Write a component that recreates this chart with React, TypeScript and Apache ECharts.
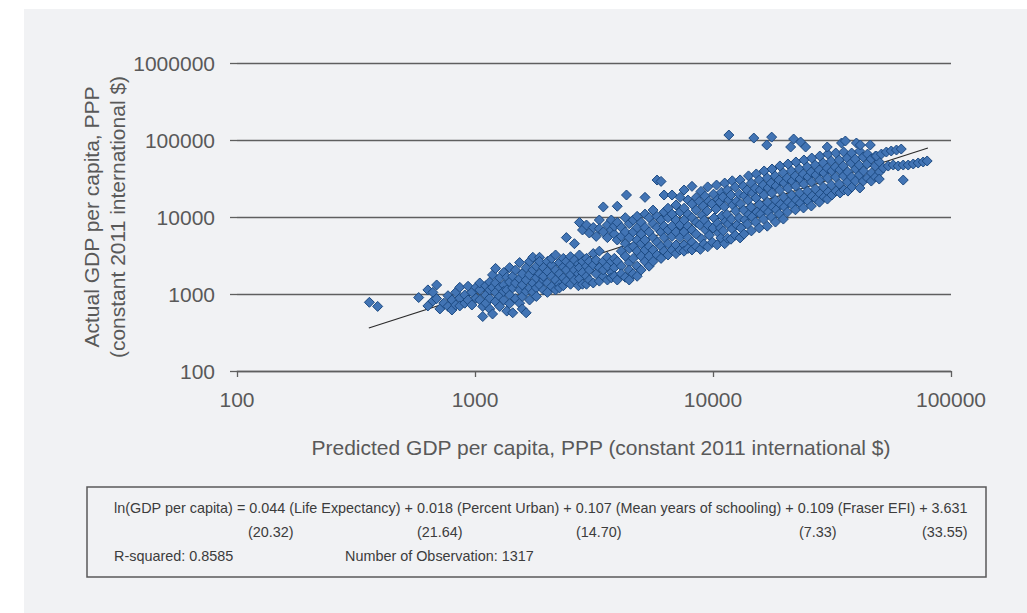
import React, { useEffect, useRef } from "react";
import * as echarts from "echarts";

// Observations: [predicted GDP per capita, actual GDP per capita], PPP constant 2011 international $
const lowIncomeObs: [number, number][] = [
  [360, 780], [390, 690], [580, 900],
  [634, 1130], [634, 700], [665, 1050], [665, 810], [690, 1310], [690, 870],
  [712, 640], [740, 760], [770, 950], [770, 690], [800, 836], [800, 620],
  [830, 1050], [830, 720], [863, 1220], [863, 880], [863, 700],
  [906, 970], [906, 760], [935, 1260], [935, 836], [970, 1050], [970, 720],
  [1010, 880], [1010, 1220], [1047, 836], [1047, 1130], [1047, 1390],
  [1078, 510], [1078, 690], [1110, 970], [1110, 1280], [1110, 760],
  [1153, 1430], [1153, 880], [1153, 1130], [1153, 640],
  [1185, 550], [1185, 1220], [1185, 1770],
  [1220, 800], [1220, 1050], [1220, 1390], [1220, 2150],
  [1270, 690], [1270, 930], [1270, 1220], [1270, 1620],
  [1320, 1310], [1320, 836], [1320, 1080], [1320, 1900],
  [1360, 1650], [1360, 600], [1360, 1130],
  [1398, 2200], [1398, 1430], [1398, 970], [1398, 750],
  [1440, 570], [1440, 1200], [1440, 1700],
  [1480, 870], [1480, 1390], [1480, 2050],
];

const lowerMiddleObs: [number, number][] = [
  [1540, 2560], [1540, 760], [1540, 1130], [1540, 1580],
  [1580, 640], [1580, 1310], [1580, 1830], [1580, 930],
  [1640, 570], [1640, 1080], [1640, 1520], [1640, 2200],
  [1695, 1200], [1695, 1770], [1695, 836], [1695, 2650],
  [1750, 3000], [1750, 1390], [1750, 2050], [1750, 1050],
  [1810, 1620], [1810, 1200], [1810, 2300], [1810, 930],
  [1867, 3000], [1867, 1310], [1867, 1830], [1867, 2650],
  [1940, 1130], [1940, 1520], [1940, 2200], [1940, 1700],
  [2015, 1390], [2015, 1960], [2015, 2650], [2015, 1050],
  [2100, 1250], [2100, 1700], [2100, 2380], [2100, 2900],
  [2180, 3210], [2180, 1520], [2180, 2050], [2180, 1130],
  [2264, 1340], [2264, 1830], [2264, 2560], [2264, 1200],
  [2350, 1620], [2350, 2250], [2350, 2900], [2350, 1280],
  [2420, 5400], [2420, 2050], [2420, 1470], [2420, 2650],
  [2520, 1770], [2520, 2380], [2520, 1340], [2520, 3050],
  [2617, 4500], [2617, 2050], [2617, 2760], [2617, 1520],
  [2720, 1280], [2720, 1830], [2720, 2450],
  [2746, 8500], [2746, 3210], [2746, 2200], [2746, 1580],
  [2830, 6780], [2830, 1340], [2830, 2650], [2830, 1900],
  [2940, 7870], [2940, 1700], [2940, 2900], [2940, 2300], [2940, 1340],
  [3023, 6200], [3023, 2050], [3023, 1520], [3023, 2650],
  [3140, 7300], [3140, 2380], [3140, 3350], [3140, 1390],
  [3230, 5600], [3230, 1830], [3230, 2760],
  [3330, 9140], [3330, 7050], [3330, 2200], [3330, 1470], [3330, 3600],
  [3460, 13500], [3460, 6400], [3460, 2650], [3460, 1700], [3460, 2050],
  [3600, 5400], [3600, 7870], [3600, 2300], [3600, 1520], [3600, 3000],
  [3740, 6780], [3740, 9140], [3740, 1900], [3740, 2650], [3740, 1620],
  [3850, 6000], [3850, 7600], [3850, 2200], [3850, 1700], [3850, 2900],
  [3960, 13800], [3960, 8500], [3960, 5030], [3960, 2650], [3960, 1520],
  [4120, 7300], [4120, 5600], [4120, 3600], [4120, 2300], [4120, 1830],
  [4280, 9800], [4280, 6400], [4280, 4500], [4280, 3100], [4280, 1650],
  [4330, 19300],
  [4446, 8200], [4446, 5400], [4446, 3900], [4446, 2560], [4446, 2050], [4446, 1520],
  [4620, 9140], [4620, 6400], [4620, 4150], [4620, 2900], [4620, 1830],
  [4800, 10200], [4800, 7300], [4800, 5030], [4800, 3600], [4800, 2300], [4800, 1700],
];

const upperMiddleObs: [number, number][] = [
  [4990, 8500], [4990, 6000], [4990, 4500], [4990, 3100], [4990, 2050],
  [5180, 18000], [5180, 10900], [5180, 7300], [5180, 5030], [5180, 2650], [5180, 3730],
  [5392, 9800], [5392, 6400], [5392, 4150], [5392, 3100], [5392, 2300],
  [5600, 12300], [5600, 8200], [5600, 5400], [5600, 3730], [5600, 2650],
  [5820, 30200], [5820, 10200], [5820, 7300], [5820, 4700], [5820, 3210],
  [6050, 29000], [6050, 9140], [6050, 6400], [6050, 4150], [6050, 2900],
  [6230, 19300], [6230, 11600], [6230, 7600], [6230, 5400], [6230, 3600],
  [6470, 9800], [6470, 6780], [6470, 4500], [6470, 3210], [6470, 13000],
  [6730, 19300], [6730, 10900], [6730, 7600], [6730, 5600], [6730, 3730],
  [6990, 14300], [6990, 9140], [6990, 6400], [6990, 4330], [6990, 3350],
  [7270, 18000], [7270, 11600], [7270, 7870], [7270, 5400], [7270, 3730],
  [7557, 22400], [7557, 13000], [7557, 9140], [7557, 6400], [7557, 4330], [7557, 3600],
  [7850, 16600], [7850, 10900], [7850, 7600], [7850, 5400], [7850, 3900],
  [8160, 25000], [8160, 14800], [8160, 9800], [8160, 6780], [8160, 4700], [8160, 3730],
  [8500, 17900], [8500, 12300], [8500, 8500], [8500, 6000], [8500, 4150],
];

const highIncomeObs: [number, number][] = [
  [8900, 21500], [8750, 15900], [9000, 10500], [8800, 7900], [8950, 5200], [8850, 3800],
  [9250, 18600], [9100, 13900], [9200, 9100], [9300, 6800], [9150, 4450],
  [9500, 24600], [9600, 16000], [9450, 12000], [9550, 7800], [9650, 5800], [9500, 4100],
  [10050, 19800], [9900, 14800], [10100, 9700], [10000, 7200], [9950, 4700],
  [10350, 26000], [10500, 17000], [10300, 12700], [10450, 8300], [10550, 6200], [10400, 4350],
  [10850, 21000], [10700, 15600], [10900, 10300], [10750, 7200], [10800, 5350],
  [11200, 27600], [11000, 18200], [11150, 13600], [11300, 8800], [11050, 6600], [11200, 4500],
  [11500, 22400], [11650, 16600], [11450, 10800], [11600, 8100], [11500, 5300],
  [12050, 29500], [11900, 19300], [12100, 14300], [11950, 9400], [12050, 7000], [11900, 5150],
  [12400, 24500], [12550, 16000], [12450, 12000], [12600, 7850], [12400, 5800],
  [13000, 30300], [12900, 19800], [13050, 14800], [12900, 9700], [13100, 7200], [13000, 5350],
  [13400, 25200], [13550, 18800], [13450, 12300], [13600, 9200], [13500, 6000],
  [14100, 34200], [13900, 22400], [14000, 16600], [14150, 10800], [13950, 8100],
  [14500, 27600], [14650, 20500], [14450, 13400], [14600, 10000], [14500, 6600],
  [15200, 36200], [15050, 23700], [15150, 17700], [15300, 11600], [15100, 8600],
  [15650, 30200], [15800, 22400], [15700, 14600], [15850, 10900], [15650, 7200],
  [16400, 39600], [16250, 26000], [16350, 19300], [16500, 12700], [16300, 9400],
  [16900, 32100], [17050, 23800], [16950, 15600], [17100, 11600], [16900, 7600],
  [17700, 42000], [17550, 27600], [17650, 20500], [17800, 13500], [17600, 10000],
  [18250, 34100], [18400, 25300], [18300, 16600], [18450, 12400], [18300, 8600],
  [19100, 46000], [18950, 30200], [19050, 22400], [19200, 14600], [19000, 10900],
  [19750, 37300], [19900, 27600], [19800, 18200], [19950, 13500], [19750, 9400],
  [20650, 48800], [20500, 32100], [20600, 23800], [20750, 15600], [20550, 11600],
  [21350, 39600], [21500, 29300], [21400, 19300], [21550, 14300],
  [22300, 51800], [22150, 34100], [22250, 25300], [22400, 16600], [22200, 12400],
  [23050, 42000], [23200, 31100], [23100, 20500], [23250, 15100],
  [24100, 55000], [23950, 36200], [24050, 26800], [24200, 17700], [24000, 13100],
  [24900, 44600], [25050, 33100], [24950, 21700], [25100, 16100],
  [26000, 58300], [25850, 38400], [25950, 28500], [26100, 18700], [25900, 13900],
  [26900, 47300], [27050, 35100], [26950, 23100], [27100, 17100],
  [28100, 61900], [27950, 40800], [28050, 30200], [28200, 19900], [28000, 15600],
  [29050, 50300], [29250, 37300], [29100, 24500], [29300, 18200],
  [30350, 65700], [30200, 43300], [30300, 32100], [30450, 21100], [30250, 17100],
  [31400, 53400], [31550, 39600], [31450, 26000], [31600, 19300],
  [32800, 67700], [32650, 44600], [32750, 33100], [32900, 21700],
  [33900, 55000], [34100, 40800], [33950, 26800], [34200, 20500],
  [35400, 69800], [35250, 46000], [35350, 34100], [35500, 22400],
  [36650, 58300], [36800, 38400], [36700, 28500], [36900, 21700],
  [38250, 67700], [38100, 50300], [38200, 33100], [38350, 24500],
  [39600, 56600], [39750, 42000], [39650, 29300],
  [41300, 71900], [41150, 47300], [41250, 35100], [41400, 23800],
  [42750, 60000], [42900, 39600], [42800, 29300],
  [44600, 65700], [44450, 48800], [44550, 32100],
  [46200, 56600], [46350, 37300], [46250, 29300],
  [48200, 62000], [48050, 45900], [48150, 33100],
  [49900, 52000], [50100, 38400], [49950, 31100],
];

// Two strands at the top end and the isolated very high values
const richestObs: [number, number][] = [
  [48600, 61900], [51000, 65700], [53500, 69800], [56100, 72000], [59000, 74100], [61800, 76300],
  [51950, 43300], [54500, 45900], [57200, 47300], [60000, 45900], [63000, 47300],
  [66100, 47300], [69400, 48800], [72800, 50300], [76400, 51800], [79400, 53400],
  [63000, 30200],
  [11660, 116000], [14840, 106000], [17640, 109000], [16820, 86100], [21820, 103000],
  [23340, 94200], [21200, 81100], [24500, 81100], [30200, 81100], [34680, 91400],
  [36000, 97000], [40050, 91400], [41600, 86100], [45800, 86100],
];

// Fitted line endpoints
const fitLine: [number, number][] = [[358, 361], [80000, 78700]];

const xTicks = [100, 1000, 10000, 100000];
const yTicks = [100, 1000, 10000, 100000, 1000000];

const xName = "Predicted GDP per capita, PPP (constant 2011 international $)";
const yNameLines = ["Actual GDP per capita, PPP", "(constant 2011 international $)"];

const equation =
  "ln(GDP per capita) = 0.044 (Life Expectancy) + 0.018 (Percent Urban) + 0.107 (Mean years of schooling) + 0.109 (Fraser EFI) + 3.631";
const tStats = ["(20.32)", "(21.64)", "(14.70)", "(7.33)", "(33.55)"];
const tStatX = [248, 417, 576, 799, 922];
const rSquared = "R-squared: 0.8585";
const observations = "Number of Observation: 1317";

const FONT = 'Arial, "Liberation Sans", Helvetica, sans-serif';
const AXIS_TEXT = "#595959";
const BODY_TEXT = "#3c3c3c";
const GRID = "#5f5f5f";

export default function App() {
  const ref = useRef<HTMLDivElement>(null);

  useEffect(() => {
    if (!ref.current) return;
    const chart = echarts.init(ref.current, null, { renderer: "svg" });

    const allObs = [...lowIncomeObs, ...lowerMiddleObs, ...upperMiddleObs, ...highIncomeObs, ...richestObs];

    const boxText = (text: string, x: number, y: number) => ({
      type: "text",
      x,
      y,
      silent: true,
      style: {
        text,
        fill: BODY_TEXT,
        fontSize: 14.4,
        fontFamily: FONT,
        align: "left",
        verticalAlign: "middle",
      },
    });

    chart.setOption({
      animation: false,
      grid: { left: 237, right: 76, top: 63, bottom: 242 },
      xAxis: {
        type: "log",
        logBase: 10,
        min: xTicks[0],
        max: xTicks[xTicks.length - 1],
        axisLine: { show: true, lineStyle: { color: GRID, width: 1.3 } },
        axisTick: { show: true, length: 6, lineStyle: { color: GRID, width: 1.3 } },
        axisLabel: {
          color: AXIS_TEXT,
          fontSize: 21,
          fontFamily: FONT,
          margin: 18,
          formatter: (v: number) => String(Math.round(v)),
        },
        splitLine: { show: false },
      },
      yAxis: {
        type: "log",
        logBase: 10,
        min: yTicks[0],
        max: yTicks[yTicks.length - 1],
        axisLine: { show: false },
        axisTick: { show: true, length: 7, lineStyle: { color: GRID, width: 1.3 } },
        axisLabel: {
          color: AXIS_TEXT,
          fontSize: 21,
          fontFamily: FONT,
          margin: 22,
          formatter: (v: number) => String(Math.round(v)),
        },
        splitLine: { show: true, lineStyle: { color: GRID, width: 1.3 } },
      },
      series: [
        {
          type: "line",
          data: fitLine,
          symbol: "none",
          z: 1,
          lineStyle: { color: "#2b2b2b", width: 1.1 },
          silent: true,
        },
        {
          type: "scatter",
          data: allObs,
          symbol: "diamond",
          symbolSize: 10,
          z: 2,
          itemStyle: { color: "#4274b4", borderColor: "#1c4a82", borderWidth: 1, opacity: 1 },
          silent: true,
        },
      ],
      graphic: [
        ...yNameLines.map((t, i) => ({
          type: "text",
          x: 91 + i * 26,
          y: 217,
          rotation: Math.PI / 2,
          silent: true,
          style: {
            text: t,
            fill: AXIS_TEXT,
            fontSize: 21,
            fontFamily: FONT,
            align: "center",
            verticalAlign: "middle",
          },
        })),
        {
          type: "text",
          x: 601,
          y: 447,
          silent: true,
          style: {
            text: xName,
            fill: AXIS_TEXT,
            fontSize: 21,
            fontFamily: FONT,
            align: "center",
            verticalAlign: "middle",
          },
        },
        {
          type: "rect",
          shape: { x: 87, y: 487, width: 899, height: 90 },
          silent: true,
          style: { fill: "none", stroke: "#595959", lineWidth: 1.5 },
        },
        boxText(equation, 114, 508),
        ...tStats.map((t, i) => boxText(t, tStatX[i], 532)),
        boxText(rSquared, 114, 556),
        boxText(observations, 345, 556),
      ],
    });

    return () => chart.dispose();
  }, []);

  return (
    <div style={{ position: "fixed", left: 0, top: 0, width: 1027, height: 613, background: "#ffffff" }}>
      <div
        style={{ position: "absolute", left: 24, top: 9, width: 1003, height: 604, background: "#f1f2f4" }}
      />
      <div ref={ref} style={{ position: "absolute", left: 0, top: 0, width: 1027, height: 613 }} />
    </div>
  );
}
